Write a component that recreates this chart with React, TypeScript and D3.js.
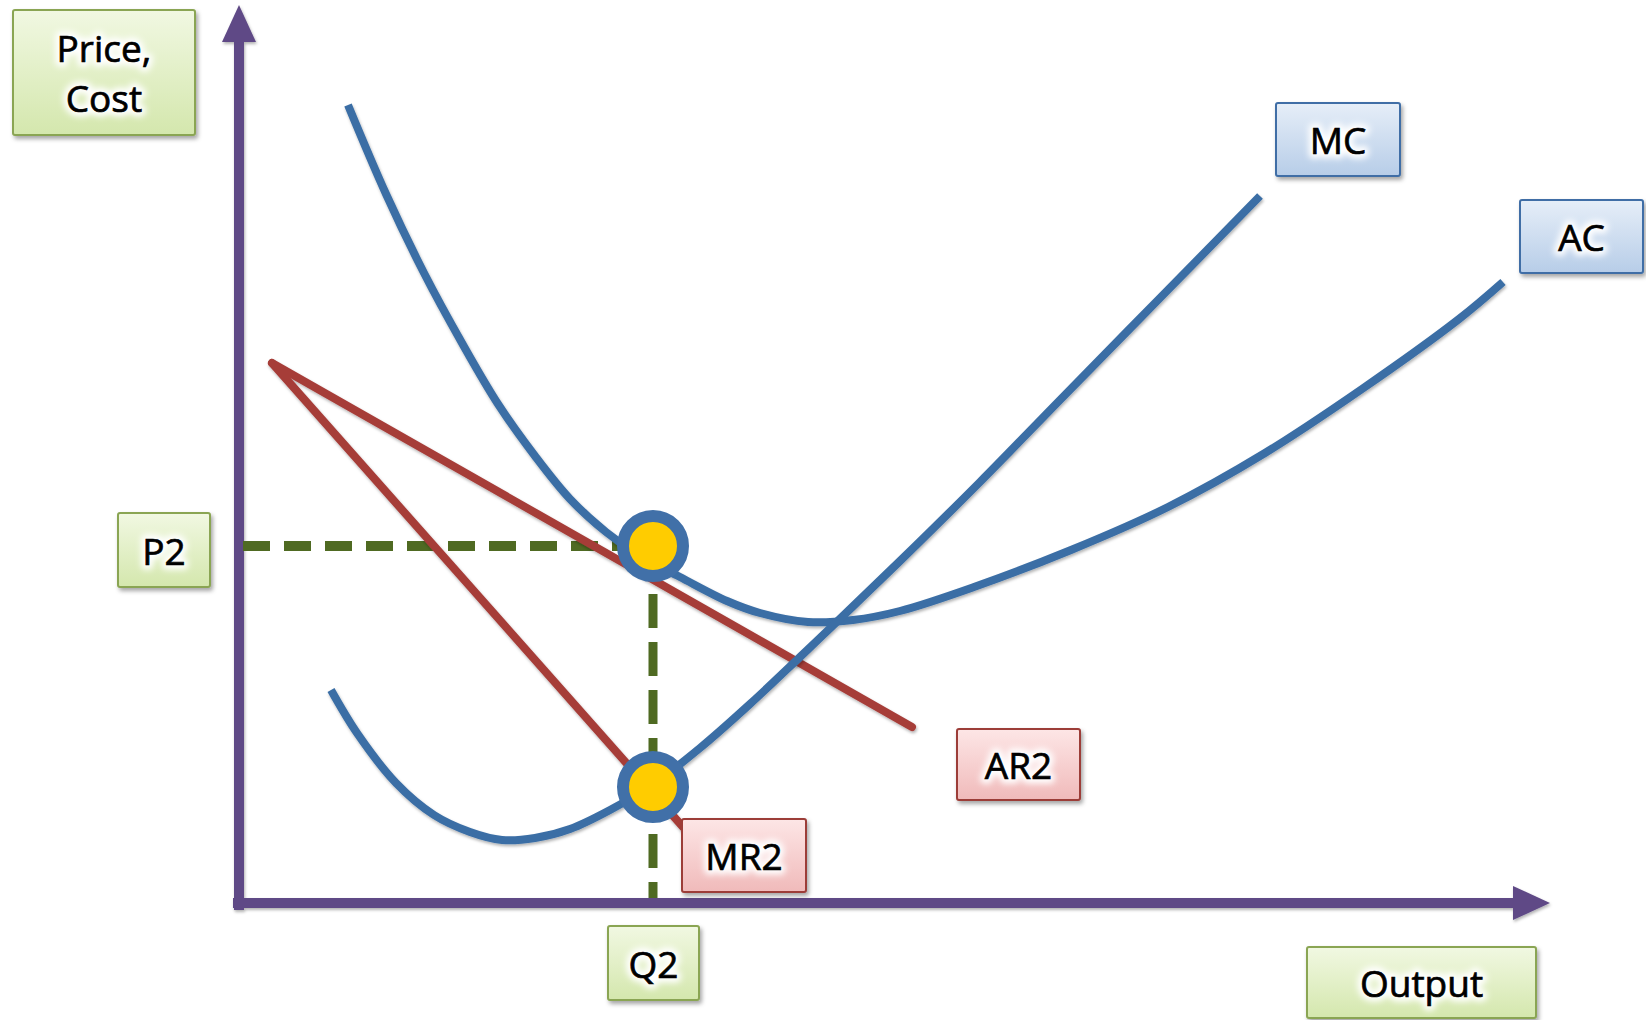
import React from "react";
import * as d3 from "d3";

// Quantity / price domain of the diagram (arbitrary economic units)
const Q_DOMAIN: [number, number] = [0, 130];
const P_DOMAIN: [number, number] = [0, 89];

// Average cost curve: [output, cost]
const acCurve: [number, number][] = [
  [10.9, 79.8], [14.7, 70.9], [18.5, 63.0], [22.3, 56.0], [25.9, 49.9],
  [29.6, 44.7], [33.1, 40.4], [36.7, 37.1], [40.1, 34.7], [44.1, 32.6],
  [48.8, 30.2], [52.1, 29.0], [56.9, 28.1], [61.4, 28.3], [66.1, 29.2],
  [73.5, 31.6], [83.2, 35.3], [92.9, 39.6], [102.6, 45.0], [112.3, 51.4],
  [122.0, 58.4], [126.4, 62.1],
];

// Marginal cost curve: [output, cost]
const mcCurve: [number, number][] = [
  [9.2, 21.3], [11.8, 17.0], [15.7, 12.0], [19.5, 8.8], [23.1, 7.1],
  [26.3, 6.3], [29.6, 6.5], [33.1, 7.4], [37.1, 9.3], [41.3, 11.8],
  [46.1, 15.5], [51.1, 19.9], [56.1, 24.6], [60.6, 28.9], [66.1, 34.2],
  [74.1, 42.1], [82.1, 50.3], [92.1, 60.5], [102.1, 70.7],
];

// Demand (average revenue) and marginal revenue lines
const arLine: [number, number][] = [[3.3, 54.0], [67.3, 17.6]];
const mrLine: [number, number][] = [[3.3, 54.0], [44.4, 7.6]];

// Equilibrium output, price, and MC = MR level
const q2 = 41.4;
const p2 = 35.7;
const mcAtQ2 = 11.6;

// Label texts
const axisYLabel = ["Price,", "Cost"];
const axisXLabel = "Output";
const priceLabel = "P2";
const qtyLabel = "Q2";
const mcLabel = "MC";
const acLabel = "AC";
const arLabel = "AR2";
const mrLabel = "MR2";

const W = 1646;
const H = 1020;

const COLORS = {
  axis: "#5f4a86",
  cost: "#3b6ea5",
  revenue: "#a63d39",
  guide: "#4f6a22",
  dotFill: "#ffcc00",
  dotRing: "#4170a8",
};

type Theme = "green" | "blue" | "red";

const boxTheme: Record<Theme, { top: string; bottom: string; stroke: string }> = {
  green: { top: "#f1f8e2", bottom: "#d4e7ad", stroke: "#8aa553" },
  blue: { top: "#e6eef8", bottom: "#b7cde8", stroke: "#3f6ea6" },
  red: { top: "#fde6e6", bottom: "#f0baba", stroke: "#9c3c38" },
};

function LabelBox({
  x, y, w, h, lines, theme, fontSize = 37,
}: {
  x: number; y: number; w: number; h: number; lines: string[]; theme: Theme; fontSize?: number;
}) {
  const lh = fontSize * 1.36;
  const cx = x + w / 2;
  const cy = y + h / 2;
  const first = cy - ((lines.length - 1) * lh) / 2 + fontSize * 0.4;
  return (
    <g>
      <rect
        x={x} y={y} width={w} height={h} rx={2}
        fill={`url(#grad-${theme})`}
        stroke={boxTheme[theme].stroke}
        strokeWidth={2}
        filter="url(#boxShadow)"
      />
      {lines.map((t, i) => (
        <g key={i}>
          <text
            x={cx} y={first + i * lh} textAnchor="middle"
            fontFamily="'Open Sans', sans-serif" fontSize={fontSize}
            fill="white" stroke="white" strokeWidth={9} strokeLinejoin="round"
            filter="url(#glow)"
          >{t}</text>
          <text
            x={cx} y={first + i * lh} textAnchor="middle"
            fontFamily="'Open Sans', sans-serif" fontSize={fontSize} fill="#000"
            stroke="#000" strokeWidth={0.7}
          >{t}</text>
        </g>
      ))}
    </g>
  );
}

export default function App() {
  const x = d3.scaleLinear().domain(Q_DOMAIN).range([239, 1539]);
  const y = d3.scaleLinear().domain(P_DOMAIN).range([903, 13]);

  const curve = d3
    .line<[number, number]>()
    .x((d) => x(d[0]))
    .y((d) => y(d[1]))
    .curve(d3.curveCatmullRom.alpha(0.5));
  const straight = d3
    .line<[number, number]>()
    .x((d) => x(d[0]))
    .y((d) => y(d[1]));

  const x0 = x(0);
  const y0 = y(0);
  const yTop = 5;
  const xEnd = 1550;

  React.useEffect(() => {
    document.body.style.margin = "0";
    document.body.style.overflow = "hidden";
  }, []);

  return (
    <svg
      width={W} height={H} viewBox={`0 0 ${W} ${H}`}
      style={{ position: "absolute", left: 0, top: 0, background: "#fff" }}
    >
      <defs>
        {(Object.keys(boxTheme) as Theme[]).map((k) => (
          <linearGradient key={k} id={`grad-${k}`} x1="0" y1="0" x2="0" y2="1">
            <stop offset="0%" stopColor={boxTheme[k].top} />
            <stop offset="100%" stopColor={boxTheme[k].bottom} />
          </linearGradient>
        ))}
        <filter id="boxShadow" x="-20%" y="-20%" width="140%" height="150%">
          <feDropShadow dx={2} dy={3} stdDeviation={2} floodColor="#000" floodOpacity={0.35} />
        </filter>
        <filter id="lineShadow" x="-10%" y="-10%" width="120%" height="120%">
          <feDropShadow dx={1} dy={2} stdDeviation={1.5} floodColor="#000" floodOpacity={0.3} />
        </filter>
        <filter id="glow" x="-30%" y="-30%" width="160%" height="160%">
          <feGaussianBlur stdDeviation={3} />
        </filter>
      </defs>

      {/* axes */}
      <g filter="url(#lineShadow)">
        <line x1={x0} y1={y0 + 7} x2={x0} y2={yTop + 34} stroke={COLORS.axis} strokeWidth={10} />
        <path
          d={`M${x0},${yTop} L${x0 + 17},${yTop + 37} L${x0 - 17},${yTop + 37} Z`}
          fill={COLORS.axis}
        />
        <line x1={x0 - 6} y1={y0} x2={xEnd - 34} y2={y0} stroke={COLORS.axis} strokeWidth={10} />
        <path
          d={`M${xEnd},${y0} L${xEnd - 37},${y0 - 17} L${xEnd - 37},${y0 + 17} Z`}
          fill={COLORS.axis}
        />
      </g>

      {/* guide lines at the equilibrium */}
      <line
        x1={x0 + 4} y1={y(p2)} x2={x(q2)} y2={y(p2)}
        stroke={COLORS.guide} strokeWidth={10} strokeDasharray="27 14"
      />
      <line
        x1={x(q2)} y1={y(p2)} x2={x(q2)} y2={y0 - 5}
        stroke={COLORS.guide} strokeWidth={9} strokeDasharray="34 14"
      />

      {/* revenue lines */}
      <g filter="url(#lineShadow)">
        <path d={straight(mrLine) ?? ""} fill="none" stroke={COLORS.revenue} strokeWidth={8} strokeLinecap="round" />
        <path d={straight(arLine) ?? ""} fill="none" stroke={COLORS.revenue} strokeWidth={8} strokeLinecap="round" />
      </g>

      {/* cost curves */}
      <g filter="url(#lineShadow)">
        <path d={curve(acCurve) ?? ""} fill="none" stroke={COLORS.cost} strokeWidth={8} />
        <path d={curve(mcCurve) ?? ""} fill="none" stroke={COLORS.cost} strokeWidth={8} />
      </g>

      {/* equilibrium points */}
      {[p2, mcAtQ2].map((p, i) => (
        <circle
          key={i} cx={x(q2)} cy={y(p)} r={30}
          fill={COLORS.dotFill} stroke={COLORS.dotRing} strokeWidth={12}
        />
      ))}

      {/* labels */}
      <LabelBox x={13} y={10} w={182} h={125} lines={axisYLabel} theme="green" />
      <LabelBox x={118} y={y(p2) - 33} w={92} h={74} lines={[priceLabel]} theme="green" />
      <LabelBox x={x(q2) - 45} y={926} w={91} h={74} lines={[qtyLabel]} theme="green" />
      <LabelBox x={1307} y={947} w={229} h={71} lines={[axisXLabel]} theme="green" />
      <LabelBox x={1276} y={103} w={124} h={73} lines={[mcLabel]} theme="blue" />
      <LabelBox x={1520} y={200} w={123} h={73} lines={[acLabel]} theme="blue" />
      <LabelBox x={957} y={729} w={123} h={71} lines={[arLabel]} theme="red" />
      <LabelBox x={682} y={819} w={124} h={73} lines={[mrLabel]} theme="red" />
    </svg>
  );
}
